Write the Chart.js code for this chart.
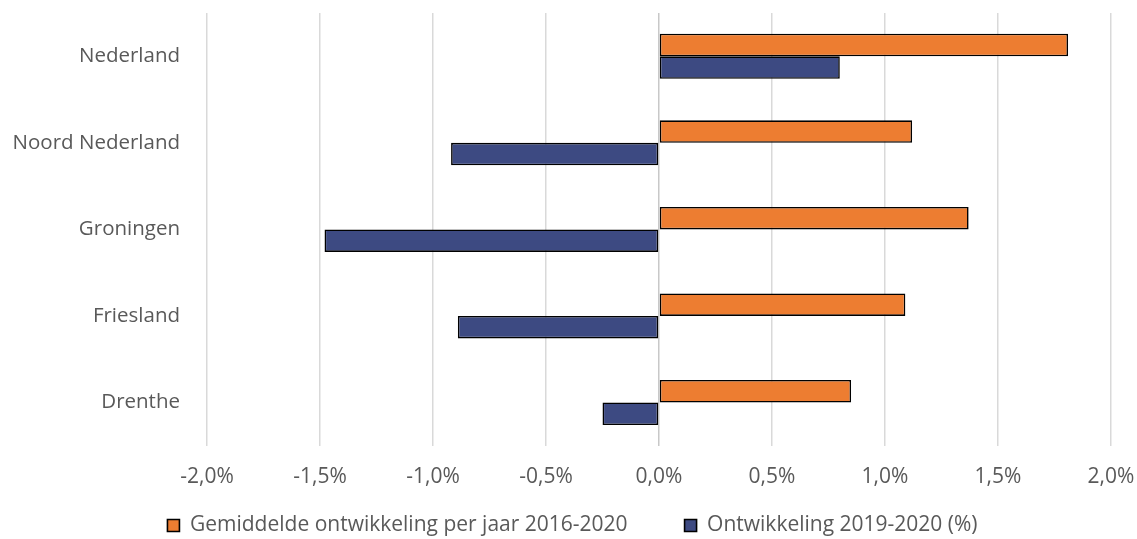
<!DOCTYPE html>
<html>
<head>
<meta charset="utf-8">
<script src="https://cdn.jsdelivr.net/npm/chart.js@4"></script>
<style>
  html, body { margin: 0; padding: 0; background: #fff; }
  #wrap { width: 1137px; height: 539px; }
</style>
</head>
<body>
<div id="wrap"><canvas id="chart"></canvas></div>
<script>
// Gegevens (in procenten)
const regions = ['Nederland', 'Noord Nederland', 'Groningen', 'Friesland', 'Drenthe'];
const avgLabel = 'Gemiddelde ontwikkeling per jaar 2016-2020';
const avgValues = [1.81, 1.12, 1.37, 1.09, 0.85];
const yearLabel = 'Ontwikkeling 2019-2020 (%)';
const yearValues = [0.80, -0.92, -1.48, -0.89, -0.25];
const axisMin = -2.0;
const axisMax = 2.0;
const axisStep = 0.5;

const FONT = "'Open Sans', sans-serif";
const TEXT = '#595959';

// komma als decimaalteken, zoals in het origineel
const fmtPct = v => v.toFixed(1).replace('.', ',') + '%';

// legenda: grote horizontale tussenruimte, maar de regel zelf hoger en iets naar rechts
const legendShift = {
    id: 'legendShift',
    afterLayout(chart) {
        const lg = chart.legend;
        if (!lg) return;
        lg.top -= 32;   // bottom blijft staan, zodat niets wordt weggeknipt
        lg.left += 17;
        lg.right += 17;
    }
};

new Chart(document.getElementById('chart'), {
    type: 'bar',
    data: {
        labels: regions,
        datasets: [{
            label: avgLabel,
            data: avgValues,
            backgroundColor: '#ED7D31',
            borderColor: '#000',
            borderWidth: 1.6,
            borderSkipped: false
        }, {
            label: yearLabel,
            data: yearValues,
            backgroundColor: '#3D4A82',
            borderColor: '#000',
            borderWidth: 1.6,
            borderSkipped: false
        }]
    },
    options: {
        indexAxis: 'y',
        responsive: true,
        maintainAspectRatio: false,
        animation: false,
        categoryPercentage: 0.52,
        barPercentage: 1.0,
        layout: { padding: { top: 13, right: 26, bottom: 0, left: 0 } },
        scales: {
            x: {
                min: axisMin,
                max: axisMax,
                border: { display: false },
                grid: {
                    color: ctx => ctx.tick && ctx.tick.value === 0 ? '#c8c8c8' : '#d9d9d9',
                    lineWidth: 1.5,
                    drawTicks: true,
                    tickLength: 19,
                    tickColor: 'rgba(0,0,0,0)'
                },
                ticks: {
                    stepSize: axisStep,
                    padding: 0,
                    color: TEXT,
                    font: { family: FONT, size: 21 },
                    callback: v => fmtPct(v)
                }
            },
            y: {
                border: { display: false },
                grid: {
                    drawOnChartArea: false,
                    drawTicks: true,
                    tickLength: 27,
                    tickColor: 'rgba(0,0,0,0)'
                },
                ticks: {
                    padding: 0,
                    color: TEXT,
                    font: { family: FONT, size: 20.5 }
                },
                afterFit: scale => { scale.width = 207; }
            }
        },
        plugins: {
            legend: {
                position: 'bottom',
                maxHeight: 49,
                labels: {
                    color: TEXT,
                    font: { family: FONT, size: 21 },
                    boxWidth: 12,
                    boxHeight: 12,
                    padding: 57,
                    useBorderRadius: false
                }
            },
            tooltip: { enabled: false }
        }
    },
    plugins: [legendShift]
});
</script>
</body>
</html>
